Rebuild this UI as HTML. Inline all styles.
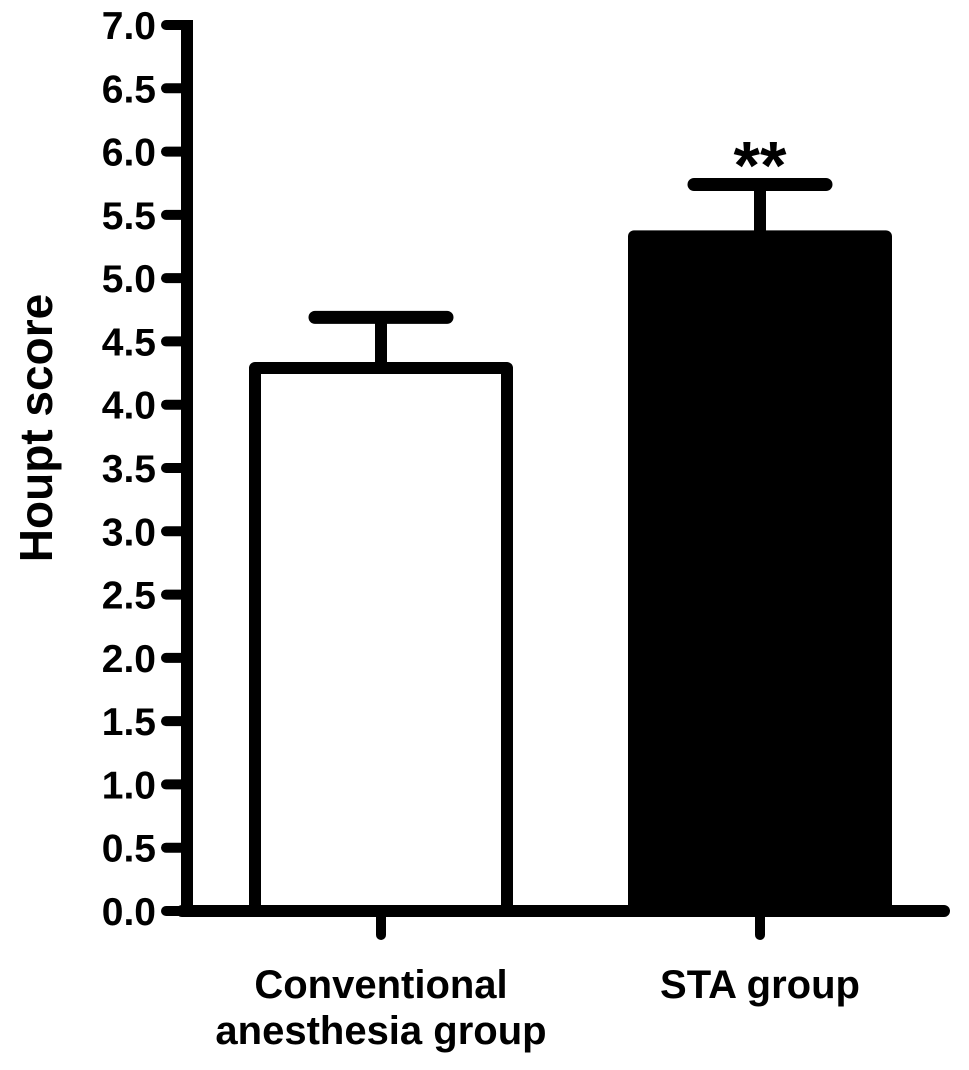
<!DOCTYPE html>
<html><head><meta charset="utf-8"><style>
html,body{margin:0;padding:0;background:#fff;}
svg text{font-family:"Liberation Sans",Arial,sans-serif;font-weight:bold;fill:#000;}
</style></head><body>
<svg id="chart" width="969" height="1065" viewBox="0 0 969 1065" xmlns="http://www.w3.org/2000/svg"></svg>
<script>
const categories = [["Conventional","anesthesia group"],["STA group"]];
const means = [4.29, 5.33];
const errors = [0.40, 0.41];
const fills = ["#fff","#000"];
const yTicks = ["0.0","0.5","1.0","1.5","2.0","2.5","3.0","3.5","4.0","4.5","5.0","5.5","6.0","6.5","7.0"];
const sigMarks = ["", "**"];

const svg = document.getElementById('chart');
const NS = 'http://www.w3.org/2000/svg';
const y0 = 911, y7 = 25, yMax = 7;
const y = v => y0 - (v / yMax) * (y0 - y7);
const xCenters = [381, 760];
const x = i => xCenters[i];
const barW = 252;
function mk(tag, attrs, parent) {
  const e = document.createElementNS(NS, tag);
  for (const k in attrs) e.setAttribute(k, attrs[k]);
  (parent || svg).appendChild(e);
  return e;
}
means.forEach((m, i) => {
  const g = mk('g', {});
  
  
  const top = y(m), cap = y(m + errors[i]);
  const err = mk('line', {x1: x(i), x2: x(i), y1: top, y2: cap, stroke: '#000', 'stroke-width': 12}, g);
  
  
  const c = mk('line', {x1: x(i) - 66, x2: x(i) + 66, y1: cap, y2: cap, stroke: '#000', 'stroke-width': 13, 'stroke-linecap': 'round'}, g);
  
  
  const r = mk('rect', {x: x(i) - barW / 2, y: top, width: barW, height: y0 - top, fill: fills[i], stroke: '#000', 'stroke-width': 12, 'stroke-linejoin': 'round'}, g);
  
  
  if (sigMarks[i]) {
    const t = mk('text', {x: x(i), y: cap + 4, 'text-anchor': 'middle', 'font-size': 68}, g);
    t.textContent = sigMarks[i];
    
    
  }
});
const ya = mk('line', {x1: 187, x2: 187, y1: y7 - 5, y2: y0 + 5, stroke: '#000', 'stroke-width': 12});


yTicks.forEach((lab, i) => {
  const v = i * 0.5;
  const tk = mk('line', {x1: 166, x2: 187, y1: y(v), y2: y(v), stroke: '#000', 'stroke-width': 10, 'stroke-linecap': 'round'});
  
  
  const t = mk('text', {x: 156, y: y(v) + 14, 'text-anchor': 'end', 'font-size': 39});
  t.textContent = lab;
  
  
});
const xa = mk('line', {x1: 182, x2: 944, y1: y0, y2: y0, stroke: '#000', 'stroke-width': 12, 'stroke-linecap': 'round'});


categories.forEach((lines, i) => {
  const tk = mk('line', {x1: x(i), x2: x(i), y1: y0, y2: 935, stroke: '#000', 'stroke-width': 10, 'stroke-linecap': 'round'});
  
  
  lines.forEach((ln, j) => {
    const t = mk('text', {x: x(i), y: 998 + j * 46, 'text-anchor': 'middle', 'font-size': 40});
    t.textContent = ln;
    
    
  });
});
const yt = mk('text', {x: 0, y: 0, 'text-anchor': 'middle', 'font-size': 46, transform: 'translate(52,428) rotate(-90)'});
yt.textContent = 'Houpt score';


</script>
</body></html>
